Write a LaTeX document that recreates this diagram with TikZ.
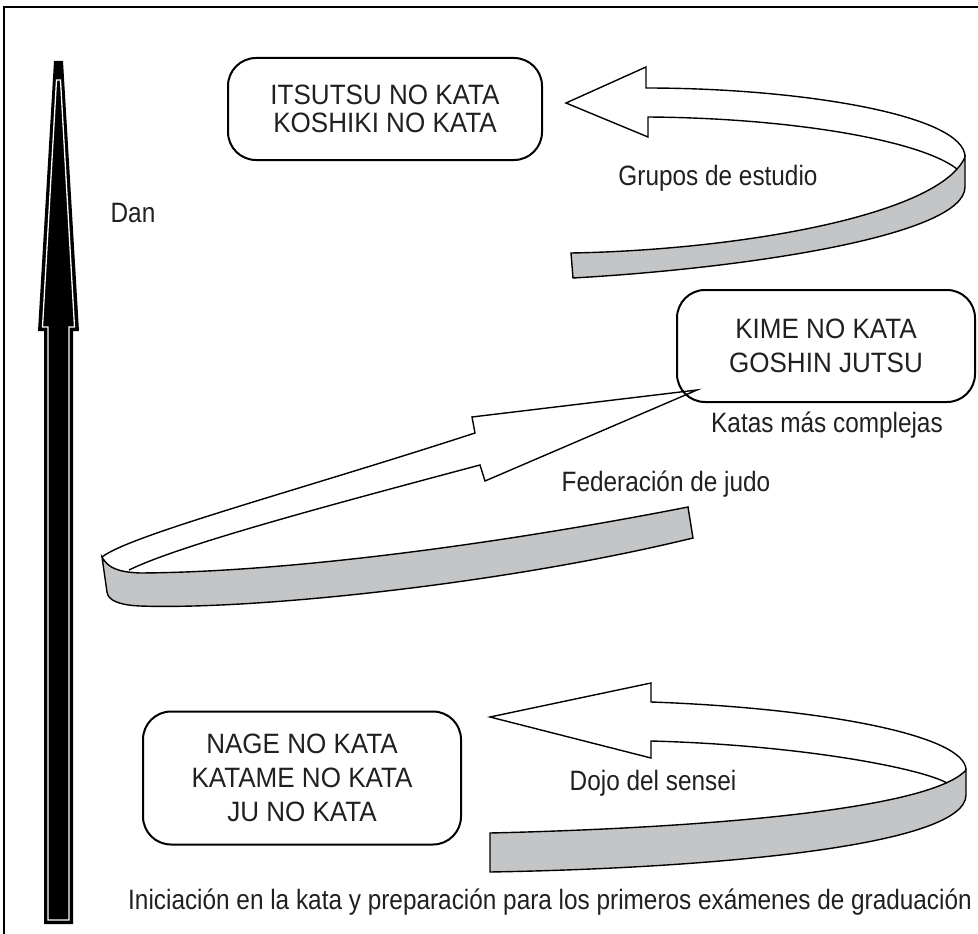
\documentclass[tikz,border=0pt]{standalone}
\usepackage{fontspec}
\setmainfont{Liberation Sans}[FakeStretch=0.87]
\newfontfamily\katafont{Liberation Sans}[FakeStretch=0.93]
\definecolor{ribbongray}{RGB}{196,197,199}
\definecolor{inkblack}{RGB}{35,31,32}

\begin{document}
\begin{tikzpicture}[x=1pt, y=-1pt,
    kata/.style={draw, line width=2pt, rounded corners=28pt, align=center, inner sep=0pt,
                 font=\katafont\fontsize{28}{34}\selectfont, text=inkblack},
    caption/.style={inner sep=0pt, font=\fontsize{28}{34}\selectfont, text=inkblack},
    ribbon/.style={line width=1.4pt, line join=miter},
    under/.style={ribbon, fill=ribbongray}]
    \useasboundingbox (0,0) rectangle (978,934);

    % Frame
    \draw[line width=1.5pt] (4,934) -- (4,7) -- (978,7);

    % Dan arrow
    \fill (54,61) -- (63,61) -- (79,331) -- (73,331) -- (73,924) -- (44,924) -- (44,331) -- (38,331) -- cycle;
    \draw[white, line width=1.3pt] (56.5,80) -- (60.5,80) -- (74.5,327) -- (69,327) -- (69,920) -- (48,920) -- (48,327) -- (42.5,327) -- cycle;
    \node[caption] (dan) at (133,213) {Dan};

    % Kata groups
    \node[kata, minimum width=314pt, minimum height=102pt] (itsutsu) at (385,109) {ITSUTSU NO KATA\\[-6pt]KOSHIKI NO KATA};
    \node[kata, minimum width=298pt, minimum height=112pt] (kime) at (826,346) {KIME NO KATA\\GOSHIN JUTSU};
    \node[kata, minimum width=318pt, minimum height=133pt] (nage) at (302,778) {NAGE NO KATA\\KATAME NO KATA\\JU NO KATA};

    % Top ribbon
    \draw[under] (965,157) .. controls (940,215) and (740,250) .. (571,253) -- (573,278)
        .. controls (750,268) and (965,235) .. (965,187) -- cycle;
    \draw[ribbon] (957,169) .. controls (920,140) and (790,118) .. (648,117) -- (648,137) -- (566,103)
        -- (646,67) -- (646,88) .. controls (800,88) and (965,115) .. (965,157);
    \node[caption] (grupos) at (718,178) {Grupos de estudio};

    % Middle ribbon
    \draw[under] (102,557) .. controls (108,568) and (118,572) .. (140,573)
        .. controls (300,572) and (520,540) .. (688,507) -- (693,538)
        .. controls (500,585) and (250,610) .. (140,606) .. controls (118,605) and (108,600) .. (107,592) -- cycle;
    \draw[ribbon] (129,570) .. controls (180,545) and (330,505) .. (480,465) -- (485,481) -- (697,390)
        -- (472,417) -- (475,433) .. controls (300,490) and (130,535) .. (102,557);
    \node[caption] (federacion) at (666,484) {Federación de judo};
    \node[caption] (katas) at (827,425) {Katas más complejas};

    % Bottom ribbon
    \draw[under] (966,770) .. controls (930,810) and (700,828) .. (490,833) -- (490,872)
        .. controls (720,868) and (966,845) .. (966,795) -- cycle;
    \draw[ribbon] (947,783) .. controls (920,768) and (800,745) .. (651,741) -- (651,758) -- (490,717)
        -- (651,683) -- (651,702) .. controls (820,708) and (966,735) .. (966,770);
    \node[caption] (dojo) at (653,783) {Dojo del sensei};

    \node[caption] (iniciacion) at (550,902) {Iniciación en la kata y preparación para los primeros exámenes de graduación};
\end{tikzpicture}
\end{document}
